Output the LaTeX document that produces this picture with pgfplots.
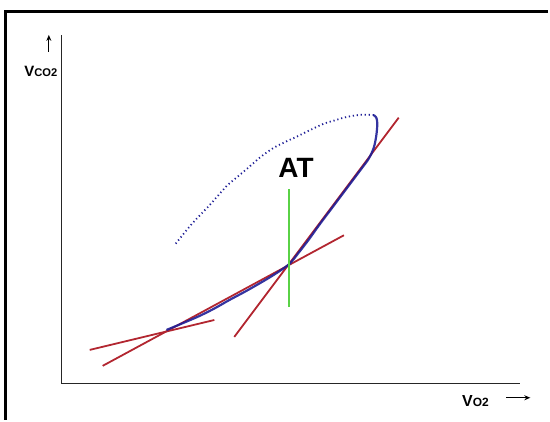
\documentclass[border=0pt]{standalone}
\usepackage{fontspec}
\setmainfont{Liberation Sans}
\usepackage{pgfplots}
\pgfplotsset{compat=1.18}
\usetikzlibrary{arrows.meta}
\definecolor{myred}{RGB}{178,38,48}
\definecolor{myblue}{RGB}{30,30,150}
\definecolor{mygreen}{RGB}{90,210,70}
\begin{document}
\begin{tikzpicture}
\begin{axis}[
  scale only axis, width=230pt, height=175pt,
  xmin=62, xmax=522, ymin=36, ymax=386,
  axis lines=left, axis line style={-, line width=0.7pt, black!85},
  xtick=\empty, ytick=\empty, clip=false,
]
% bounding box and frame
\path (axis cs:0,0) rectangle (axis cs:550,421);
\draw[line width=1.75pt, black] (axis cs:5.5,0) -- (axis cs:5.5,409.5) -- (axis cs:550,409.5);

% red tangent/secant lines
\addplot[myred, line width=0.9pt] coordinates {(90,70) (215,100)};
\addplot[myred, line width=0.9pt] coordinates {(103,54) (345,185)};
\addplot[myred, line width=0.9pt] coordinates {(235,83) (400,303)};
% blue solid curve
\addplot[myblue, line width=1.1pt, smooth, opacity=0.9] coordinates {
(167,90) (185,97.5) (200,104) (215,111.5) (230,120) (245,128) (260,136.5) (275,145.5) (290,156)
(300,168) (310,181) (320,195) (335,215) (350,235) (362,251) (370,262) (375,273) (377.5,285) (378.5,297) (377.5,303) (375,305.5)};
% blue dotted return
\addplot[myblue, line width=0.9pt, dash pattern=on 0.6pt off 1.4pt, smooth] coordinates {
(375,305.5) (365,306) (355,305) (345,303) (335,300) (325,297) (310,290) (300,285) (287,279)
(275,273) (262,264) (247,251) (235,241) (227,234) (210,215) (193,197) (183,185) (175,175)};
% green AT line
\addplot[mygreen, line width=0.9pt] coordinates {(290,113) (290,231)};

\node[font=\bfseries\fontsize{14}{16}\selectfont] at (axis cs:297,253) {AT};
\node[font=\bfseries\fontsize{7.5}{9}\selectfont] at (axis cs:41,349) {V{\fontsize{5.6}{7}\selectfont CO2}};
\node[font=\bfseries\fontsize{8}{9}\selectfont] at (axis cs:477,19) {V{\fontsize{6}{7}\selectfont O2}};
\draw[-{Stealth[length=3pt,width=2.5pt,open]}, line width=0.5pt] (axis cs:508,22) -- (axis cs:532,22);
\draw[-{Stealth[length=3pt,width=2.5pt,open]}, line width=0.5pt] (axis cs:49,369) -- (axis cs:49,386);
\end{axis}
\end{tikzpicture}
\end{document}
